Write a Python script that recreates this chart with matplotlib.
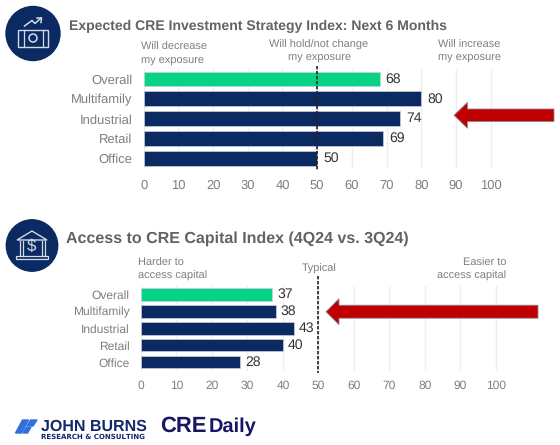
import matplotlib
matplotlib.use("Agg")
import matplotlib.pyplot as plt
from matplotlib.patches import Circle, Polygon, Rectangle

plt.rcParams['font.family'] = ['Liberation Sans', 'DejaVu Sans']
plt.rcParams['text.hinting'] = 'none'
plt.rcParams['text.hinting_factor'] = 1

W = 560
H = 445
NAVY = "#0B2A62"
GREEN = "#06D385"
RED = "#C00000"
GREY = "#7F7F7F"
ICON = "#D5DAE4"

sectors = ["Overall", "Multifamily", "Industrial", "Retail", "Office"]
strategy_values = [68, 80, 74, 69, 50]
capital_values = [37, 38, 43, 40, 28]
xticks = [0, 10, 20, 30, 40, 50, 60, 70, 80, 90, 100]
bar_colors = [GREEN, NAVY, NAVY, NAVY, NAVY]


def bar_panel(fig, values, left, right, top, bottom, xmax, labelsize, valuesize, gap, line_top, line_bot, tick_y):
    # axes box is given in pixels from the top left corner
    ax = fig.add_axes([left / W, 1 - bottom / H, (right - left) / W, (bottom - top) / H])
    ax.barh(sectors, values, height=0.74, color=bar_colors, edgecolor="#C9D0DC", linewidth=0.5, zorder=2)
    ax.set_xlim(0, xmax)
    ax.set_ylim(4.5, -0.5)
    ax.set_xticks(xticks)
    ax.grid(axis="x", color="#EFEFEF", linewidth=1, zorder=0)
    ax.set_axisbelow(True)
    for s in ax.spines.values():
        s.set_visible(False)
    ax.tick_params(axis="both", length=0, labelcolor=GREY)
    ax.tick_params(axis="y", labelsize=labelsize, pad=8)
    ax.tick_params(axis="x", labelsize=labelsize, pad=(tick_y - bottom - 4.5) * 0.72)
    for i, v in enumerate(values):
        ax.text(v + gap, i, str(v), va="center", ha="left", fontsize=valuesize, color="#333333")
    # the neutral 50 mark runs a little past the plot area
    ax.plot([50, 50], [line_top, line_bot], color="#222222", linewidth=1.2, linestyle=(0, (2, 1)),
            zorder=3, clip_on=False, transform=ax.get_xaxis_transform())
    return ax


fig = plt.figure(figsize=(W / 100, H / 100), dpi=100, facecolor="white")

bar_panel(fig, strategy_values, 143.7, 507, 69, 168.5, 104.7, 9.3, 10, 1.7, 1.03, -0.015, 184)
bar_panel(fig, capital_values, 141, 510, 286, 370.5, 104, 8.9, 9.8, 1.4, 1.118, -0.03, 385)

# overlay in pixel coordinates for titles, notes, arrows and logos
ov = fig.add_axes([0, 0, 1, 1], zorder=5)
ov.set_xlim(0, W)
ov.set_ylim(H, 0)
ov.axis("off")
ov.patch.set_alpha(0)

ov.text(69, 26.5, "Expected CRE Investment Strategy Index: Next 6 Months", fontsize=10.1,
        fontweight="bold", color="#636363", va="center")
ov.text(66, 238.5, "Access to CRE Capital Index (4Q24 vs. 3Q24)", fontsize=11.55,
        fontweight="bold", color="#636363", va="center")

notes = [
    (141, 54, "Will decrease\nmy exposure", "left", 8.2),
    (319, 51.5, "Will hold/not change\nmy exposure", "center", 8.2),
    (500.5, 51.5, "Will increase\nmy exposure", "right", 8.2),
    (138.5, 269.5, "Harder to\naccess capital", "left", 7.8),
    (319, 268.5, "Typical", "center", 7.8),
    (506.5, 269.5, "Easier to\naccess capital", "right", 7.8),
]
for x, y, txt, ha, fs in notes:
    ov.text(x, y, txt, ha=ha, va="center", fontsize=fs, color=GREY, linespacing=1.4)


def left_arrow(tip, head, end, y, shaft, spread):
    pts = [(tip, y), (head, y - spread), (head, y - shaft), (end, y - shaft),
           (end, y + shaft), (head, y + shaft), (head, y + spread)]
    ov.add_patch(Polygon(pts, closed=True, facecolor=RED, edgecolor="#8A8A96", linewidth=0.6))


left_arrow(454, 467.5, 554, 115.3, 6.3, 13)
left_arrow(326, 339, 538, 311.7, 6.5, 13)

# round icon, chart arrow over a banknote
ov.add_patch(Circle((33, 33.5), 27, color=NAVY))
ov.add_patch(Rectangle((18, 29.5), 30, 17, fill=False, edgecolor=ICON, linewidth=1))
ov.plot([23.5, 23.5], [30, 46], color=ICON, linewidth=0.9)
ov.plot([42.5, 42.5], [30, 46], color=ICON, linewidth=0.9)
ov.add_patch(Circle((33, 38), 4, fill=False, edgecolor=ICON, linewidth=1.1))
ov.plot([24.5, 32, 35, 41], [26, 20.5, 23.5, 18], color=ICON, linewidth=1.1)
ov.plot([37, 41.5, 41], [18, 18, 22.5], color=ICON, linewidth=1.1)

# round icon, bank building with a dollar sign
ov.add_patch(Circle((32, 245.5), 25.7, color=NAVY))
ov.add_patch(Polygon([(17, 240), (32, 231), (47, 240)], closed=True, fill=False,
                     edgecolor=ICON, linewidth=1))
for px in [19.5, 22.5, 42, 45]:
    ov.plot([px, px], [241, 256], color=ICON, linewidth=0.9)
ov.add_patch(Rectangle((16, 256), 32, 2.5, fill=False, edgecolor=ICON, linewidth=0.9))
ov.text(32, 246.5, "$", ha="center", va="center", fontsize=12, color=ICON)

# footer wordmarks
ov.add_patch(Polygon([(15.5, 433), (21.5, 433), (28.5, 420), (22.5, 420)], closed=True, color="#2F6FE0"))
ov.add_patch(Polygon([(27, 426), (33, 426), (37, 420), (30.5, 420)], closed=True, color="#2F6FE0"))
ov.add_patch(Polygon([(23, 433), (27.5, 433), (31, 427.2), (26.3, 427.2)], closed=True, color="#2F6FE0"))
ov.text(41, 426.5, "JOHN BURNS", fontsize=11.6, fontweight="bold", color="#14286B", va="center")
ov.text(41, 436.7, "RESEARCH & CONSULTING", family="DejaVu Sans", fontsize=5.05, fontweight="bold",
        color="#14286B", va="center")
ov.text(160.5, 426.5, "CRE", fontsize=15.5, fontweight="bold", color="#1B1464", va="center")
ov.text(209, 426.5, "Daily", fontsize=14.5, color="#1B1464", va="center", fontweight="bold")

fig.savefig("out.png", dpi=100, facecolor="white")
